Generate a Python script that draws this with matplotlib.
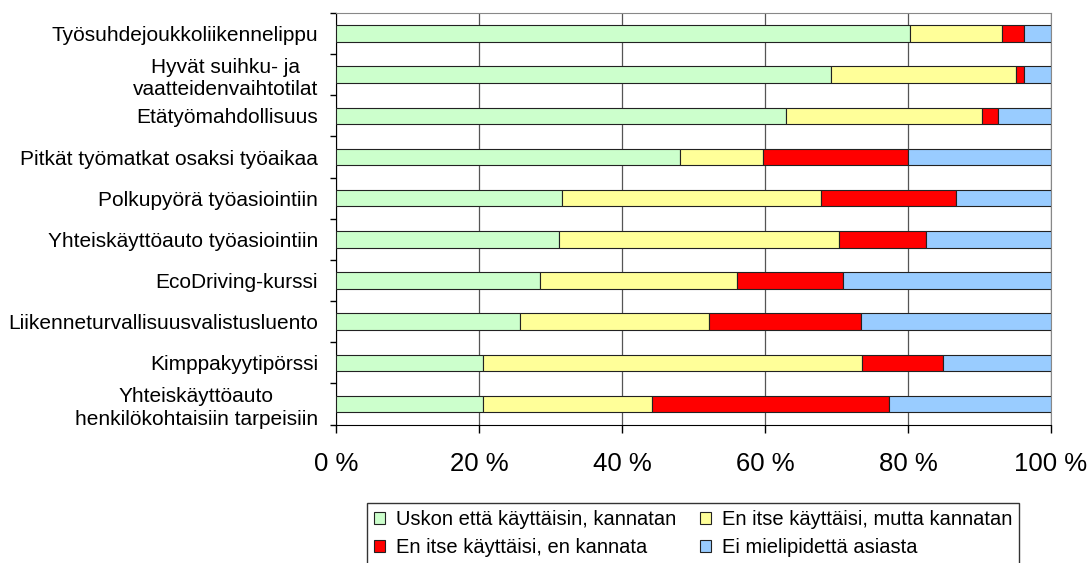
import matplotlib
matplotlib.use("Agg")
import matplotlib.pyplot as plt
import numpy as np

plt.rcParams['font.family'] = ['Liberation Sans', 'DejaVu Sans']

categories = [
    "Työsuhdejoukkoliikennelippu",
    "Hyvät suihku- ja\nvaatteidenvaihtotilat",
    "Etätyömahdollisuus",
    "Pitkät työmatkat osaksi työaikaa",
    "Polkupyörä työasiointiin",
    "Yhteiskäyttöauto työasiointiin",
    "EcoDriving-kurssi",
    "Liikenneturvallisuusvalistusluento",
    "Kimppakyytipörssi",
    "Yhteiskäyttöauto\nhenkilökohtaisiin tarpeisiin",
]
series_names = [
    "Uskon että käyttäisin, kannatan",
    "En itse käyttäisi, mutta kannatan",
    "En itse käyttäisi, en kannata",
    "Ei mielipidettä asiasta",
]
uskon = [80.3, 69.2, 63.0, 48.1, 31.6, 31.2, 28.6, 25.8, 20.6, 20.6]
mutta_kannatan = [12.8, 25.9, 27.3, 11.6, 36.3, 39.2, 27.5, 26.4, 52.9, 23.6]
en_kannata = [3.1, 1.1, 2.3, 20.3, 18.8, 12.1, 14.8, 21.2, 11.4, 33.2]
ei_mielipidetta = [3.8, 3.8, 7.4, 20.0, 13.3, 17.5, 29.1, 26.6, 15.1, 22.6]
xticks = [0, 20, 40, 60, 80, 100]
xticklabels = ["0 %", "20 %", "40 %", "60 %", "80 %", "100 %"]

colors = ["#CCFFCC", "#FFFF99", "#FF0000", "#99CCFF"]

W, H = 1091, 563
fig = plt.figure(figsize=(W/100, H/100), dpi=100)
ax = fig.add_axes([336/W, 1-424.5/H, (1051-336)/W, (424.5-13)/H])

data = [uskon, mutta_kannatan, en_kannata, ei_mielipidetta]
y = np.arange(len(categories))
left = np.zeros(len(categories))
handles = []
for vals, col, name in zip(data, colors, series_names):
    vals = np.array(vals)
    b = ax.barh(y, vals, left=left, height=0.4, color=col, edgecolor="#222222",
                linewidth=0.8, label=name, zorder=3)
    handles.append(b)
    left = left + vals

ax.set_xlim(0, 100)
ax.set_ylim(len(categories)-0.5, -0.5)

ax.set_xticks(xticks)
ax.set_xticklabels(xticklabels, fontsize=18.5)
ax.tick_params(axis='x', direction='out', length=6, width=1, pad=14, colors='black')
ax.xaxis.grid(True, color='#555555', linewidth=0.9, zorder=0)

ax.set_yticks(np.arange(-0.5, len(categories), 1.0))
ax.set_yticklabels([])
ax.tick_params(axis='y', which='major', direction='out', length=4, width=1)
ax.set_yticks(y, minor=True)
ax.set_yticklabels(categories, minor=True, fontsize=15, linespacing=1.25,
                   multialignment='center')
ax.tick_params(axis='y', which='minor', length=0, pad=13)

ax.spines['left'].set_color('black')
ax.spines['bottom'].set_color('black')
ax.spines['top'].set_color('#888888')
ax.spines['right'].set_color('#888888')
ax.set_axisbelow(True)

# legend: row-wise order as in the reference (matplotlib fills columns first)
order = [0, 2, 1, 3]
leg = fig.legend(handles=[handles[i] for i in order],
                 labels=[series_names[i] for i in order], ncol=2,
                 loc='upper left', bbox_to_anchor=(367/W, 1-503/H),
                 fontsize=14.5, frameon=True, fancybox=False, edgecolor='black',
                 handlelength=0.55, handleheight=0.55, handletextpad=0.55,
                 columnspacing=1.15, borderpad=0.35, labelspacing=0.44,
                 borderaxespad=0)
leg.get_frame().set_linewidth(1.0)

fig.savefig("out.png", dpi=100)
